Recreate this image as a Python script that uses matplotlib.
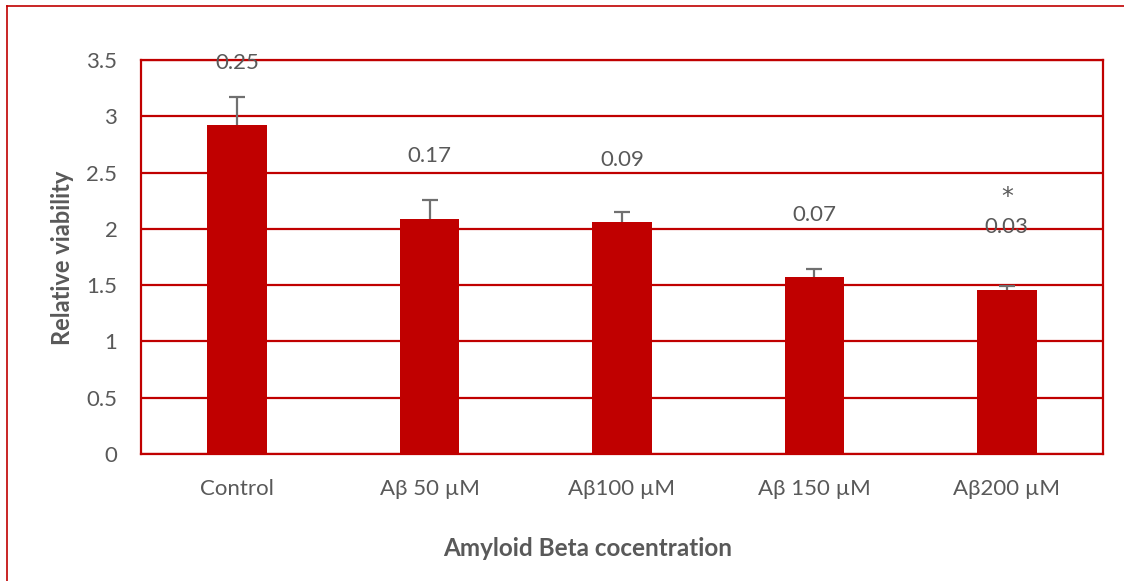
import matplotlib
matplotlib.use("Agg")
import matplotlib.pyplot as plt
from matplotlib.lines import Line2D

categories = ["Control", "Aβ 50 µM", "Aβ100 µM", "Aβ 150 µM", "Aβ200 µM"]
viability = [2.92, 2.09, 2.06, 1.57, 1.46]
errors = [0.25, 0.17, 0.09, 0.07, 0.03]
labels = ["0.25", "0.17", "0.09", "0.07", "0.03"]
significance = ["", "", "", "", "*"]
yticks = [0, 0.5, 1, 1.5, 2, 2.5, 3, 3.5]
ytick_labels = ["0", "0.5", "1", "1.5", "2", "2.5", "3", "3.5"]

RED = "#C00000"
GREY = "#595959"
plt.rcParams["font.family"] = ["Lato", "DejaVu Sans"]

fig = plt.figure(figsize=(11.24, 5.81), dpi=100)
ax = fig.add_axes([141 / 1124, 1 - 454 / 581, (1103 - 141) / 1124, (454 - 60) / 581])

x = list(range(len(categories)))
ax.set_axisbelow(True)
ax.yaxis.grid(True, color=RED, linewidth=1.6)
ax.bar(x, viability, width=0.31, color=RED, zorder=2)
eb = ax.errorbar(x, viability, yerr=[[0] * len(errors), errors], fmt="none",
                 ecolor="#707070", elinewidth=1.6, capsize=6, capthick=1.6, zorder=3)
for cap in eb[1]:
    if list(cap.get_ydata()) == list(viability):
        cap.set_visible(False)

for xi, v, lab, sig in zip(x, viability, labels, significance):
    ax.annotate(lab, (xi, v), xytext=(0, 45), textcoords="offset points",
                ha="center", va="center", fontsize=16, color=GREY, zorder=4)
    if sig:
        ax.annotate(sig, (xi, v), xytext=(0, 67), textcoords="offset points",
                    ha="center", va="center", fontsize=17, color=GREY, zorder=4,
                    family=["DejaVu Sans"])

ax.set_xlim(-0.5, len(categories) - 0.5)
ax.set_ylim(0, 3.5)
ax.set_yticks(yticks)
ax.set_yticklabels(ytick_labels)
ax.set_xticks(x)
ax.set_xticklabels(categories)
ax.tick_params(axis="both", length=0, labelsize=16, labelcolor=GREY)
ax.tick_params(axis="y", pad=17)
ax.tick_params(axis="x", pad=18)
for s in ax.spines.values():
    s.set_color(RED)
    s.set_linewidth(1.6)

fig.text(63 / 1124, 1 - 258 / 581, "Relative viability", rotation=90, ha="center", va="center",
         fontsize=17, fontweight="bold", color=GREY)
fig.text(588 / 1124, 1 - 548 / 581, "Amyloid Beta cocentration", ha="center", va="center",
         fontsize=17.5, fontweight="bold", color=GREY)

# outer chart border (left and top visible)
fig.add_artist(Line2D([7 / 1124, 7 / 1124], [0, 1 - 6 / 581], transform=fig.transFigure,
                      color=RED, linewidth=1.2))
fig.add_artist(Line2D([7 / 1124, 1], [1 - 6 / 581, 1 - 6 / 581], transform=fig.transFigure,
                      color=RED, linewidth=1.2))

fig.savefig("out.png", dpi=100)
